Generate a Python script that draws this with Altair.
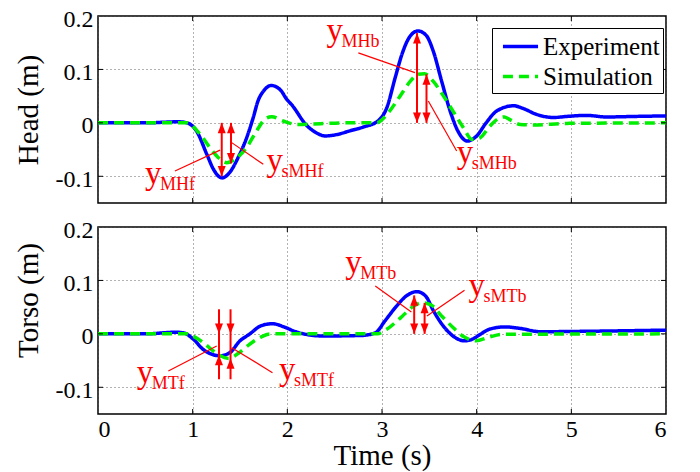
import altair as alt
import pandas as pd

SERIES = ["Experiment", "Simulation"]
COLORS = ["#0000ff", "#00ee00"]
DASHES = [[1, 0], [10, 6]]
X_TICKS = [0, 1, 2, 3, 4, 5, 6]
Y_TICKS = [-0.1, 0, 0.1, 0.2]
INNER_X_TICKS = [1, 2, 3, 4, 5]
INNER_Y_TICKS = [-0.1, 0, 0.1]

# ---------------- Head ----------------
head_exp_t = [0, 0.5, 0.85, 0.94, 1.04, 1.15, 1.22, 1.31, 1.39, 1.48, 1.57, 1.64, 1.69, 1.75, 1.83,
              1.93, 1.99, 2.05, 2.20, 2.30, 2.40, 2.52, 2.66, 2.80, 2.96, 3.05, 3.14, 3.21, 3.30,
              3.38, 3.47, 3.54, 3.63, 3.72, 3.81, 3.90, 4.00, 4.10, 4.21, 4.39, 4.49, 4.63, 4.81,
              4.95, 5.16, 5.37, 5.66, 6.0]
head_exp_y = [0, 0, 0.002, 0.0, -0.015, -0.059, -0.087, -0.103, -0.093, -0.065, -0.028, 0.010, 0.041,
              0.060, 0.070, 0.061, 0.045, 0.033, -0.004, -0.018, -0.0245, -0.022, -0.015, -0.008,
              0.004, 0.028, 0.085, 0.128, 0.163, 0.172, 0.163, 0.135, 0.078, 0.022, -0.018, -0.034,
              -0.0245, 0.000, 0.022, 0.032, 0.027, 0.016, 0.010, 0.012, 0.014, 0.011, 0.012, 0.013]
head_sim_t = [0, 0.5, 0.94, 1.077, 1.18, 1.29, 1.36, 1.447, 1.57, 1.676, 1.764, 1.835, 1.957, 2.10,
              2.35, 2.6, 2.94, 3.08, 3.19, 3.30, 3.38, 3.45, 3.54, 3.65, 3.75, 3.86, 3.95, 4.035,
              4.14, 4.22, 4.29, 4.35, 4.46, 4.6, 4.95, 6.0]
head_sim_y = [0, 0, 0, -0.021, -0.046, -0.068, -0.0745, -0.068, -0.046, -0.015, 0.007, 0.0115, 0.0035,
              -0.003, -0.0015, 0, 0, 0.022, 0.050, 0.078, 0.091, 0.092, 0.078, 0.050, 0.022, -0.009,
              -0.031, -0.028, -0.006, 0.007, 0.011, 0.006, -0.003, -0.004, -0.001, 0]

head_arrow_x = [1.307, 1.405, 3.37, 3.47]
head_arrow_lo = [-0.100, -0.076, 0.0, 0.0]
head_arrow_hi = [0.0, 0.0, 0.168, 0.091]
head_up_x = [1.307, 1.405, 3.37, 3.47]
head_up_y = [0.0, 0.0, 0.168, 0.091]
head_down_x = [1.307, 1.405, 3.37, 3.47]
head_down_y = [-0.100, -0.076, 0.0, 0.0]
head_lead_x1 = [0.813, 1.412, 2.75, 3.489]
head_lead_y1 = [-0.090, -0.037, 0.131, 0.041]
head_lead_x2 = [1.289, 1.746, 3.348, 3.789]
head_lead_y2 = [-0.051, -0.0775, 0.094, -0.0526]
head_lab_x = [0.496, 1.78, 2.415, 3.79]
head_lab_y = [-0.114, -0.090, 0.153, -0.0745]
head_lab_sub = ["MHf", "sMHf", "MHb", "sMHb"]

# ---------------- Torso ----------------
torso_exp_t = [0, 0.5, 0.82, 0.90, 1.007, 1.11, 1.20, 1.29, 1.394, 1.50, 1.597, 1.72, 1.842, 1.965,
               2.088, 2.375, 2.785, 2.93, 3.03, 3.154, 3.257, 3.37, 3.46, 3.544, 3.646, 3.75, 3.87,
               3.954, 4.036, 4.14, 4.30, 4.467, 4.67, 5.245, 6.0]
torso_exp_y = [0, 0, 0.003, 0.002, -0.010, -0.029, -0.038, -0.041, -0.035, -0.013, -0.001, 0.015,
               0.019, 0.013, 0.004, -0.004, -0.003, 0.002, 0.024, 0.052, 0.071, 0.079, 0.071, 0.043,
               0.015, -0.004, -0.013, -0.010, -0.001, 0.009, 0.013, 0.010, 0.004, 0.005, 0.007]
torso_sim_t = [0, 0.5, 0.94, 1.0, 1.11, 1.218, 1.38, 1.494, 1.597, 1.72, 1.82, 2.95, 3.05, 3.196,
               3.32, 3.42, 3.52, 3.626, 3.75, 3.87, 3.995, 4.118, 4.26, 6.0]
torso_sim_y = [0, 0, 0, -0.004, -0.016, -0.032, -0.046, -0.035, -0.020, -0.006, 0, 0, 0.0085, 0.030,
               0.050, 0.058, 0.054, 0.034, 0.012, -0.006, -0.013, -0.007, -0.001, 0]

torso_arrow_x = [1.278, 1.40, 3.34, 3.45]
torso_arrow_lo = [-0.085, -0.085, 0.0, 0.0]
torso_arrow_hi = [0.046, 0.046, 0.072, 0.058]
torso_up_x = [1.278, 1.40, 3.34, 3.45]
torso_up_y = [-0.0395, -0.0457, 0.072, 0.058]
torso_down_x = [1.278, 1.40, 3.34, 3.45]
torso_down_y = [0.0, 0.0, 0.0, 0.0]
torso_lead_x1 = [0.743, 1.412, 2.929, 3.872]
torso_lead_y1 = [-0.0694, -0.0258, 0.0896, 0.0816]
torso_lead_x2 = [1.254, 1.843, 3.31, 3.475]
torso_lead_y2 = [-0.0226, -0.0726, 0.041, 0.0335]
torso_lab_x = [0.409, 1.912, 2.613, 3.914]
torso_lab_y = [-0.0925, -0.087, 0.1145, 0.071]
torso_lab_sub = ["MTf", "sMTf", "MTb", "sMTb"]

W, H = 568, 187
FONT = "Liberation Serif"
RED = "#ff0000"
UP_SHAPE = "M0,0 L-0.5,1.3 L0.5,1.3 Z"
DOWN_SHAPE = "M0,0 L-0.5,-1.3 L0.5,-1.3 Z"
LEGEND_LINE = "M-1.3,0 L1.3,0"

XS = alt.Scale(domain=[0, 6], nice=False, zero=False)
YS = alt.Scale(domain=[-0.15, 0.2], nice=False, zero=False)

Y_LABEL_EXPR = ("datum.value < 0 ? '-' + format(-datum.value, '.1f') : "
                "(datum.value == 0 ? '0' : format(datum.value, '.1f'))")


def panel(exp_t, exp_y, sim_t, sim_y, ax, alo, ahi, ux, uy, dx_, dy_,
          lx1, ly1, lx2, ly2, labx, laby, labsub, ytitle, bottom, legend, title_y):
    df = pd.concat([
        pd.DataFrame({"t": exp_t, "v": exp_y, "series": SERIES[0]}),
        pd.DataFrame({"t": sim_t, "v": sim_y, "series": SERIES[1]}),
    ], ignore_index=True)

    xaxis = alt.Axis(values=X_TICKS, format="d", grid=True, labels=bottom,
                     title="Time (s)" if bottom else "", labelPadding=3, titlePadding=0,
                     labelFont=FONT, titleFont=FONT)
    yaxis = alt.Axis(values=Y_TICKS, labelExpr=Y_LABEL_EXPR, grid=True, title=ytitle,
                     labelPadding=5, titlePadding=12, labelOffset=3, titleY=title_y,
                     labelFont=FONT, titleFont=FONT)

    def X(f):
        return alt.X(f, type="quantitative", scale=XS, axis=xaxis)

    def Y(f):
        return alt.Y(f, type="quantitative", scale=YS, axis=yaxis)

    if legend:
        leg = alt.Legend(title=None, orient="none", legendX=394, legendY=12,
                         labelFont=FONT, labelFontSize=25, labelColor="black",
                         symbolType=LEGEND_LINE, symbolSize=729, symbolStrokeWidth=3.5,
                         symbolOffset=10, strokeColor="black", fillColor="white", padding=3,
                         rowPadding=1, labelOffset=7)
    else:
        leg = None

    lines = alt.Chart(df).mark_line(strokeWidth=3.5, interpolate="monotone").encode(
        x=X("t"), y=Y("v"),
        color=alt.Color("series:N", scale=alt.Scale(domain=SERIES, range=COLORS), legend=leg),
        strokeDash=alt.StrokeDash("series:N", scale=alt.Scale(domain=SERIES, range=DASHES),
                                  legend=leg),
    )

    xt = alt.Chart(pd.DataFrame({"t": INNER_X_TICKS}))
    yt = alt.Chart(pd.DataFrame({"v": INNER_Y_TICKS}))
    tick_top = xt.mark_rule(color="black", strokeWidth=1).encode(
        x=X("t"), y=alt.value(0), y2=alt.value(5))
    tick_bot = xt.mark_rule(color="black", strokeWidth=1).encode(
        x=X("t"), y=alt.value(H), y2=alt.value(H - 5))
    tick_left = yt.mark_rule(color="black", strokeWidth=1).encode(
        y=Y("v"), x=alt.value(0), x2=alt.value(5))
    tick_right = yt.mark_rule(color="black", strokeWidth=1).encode(
        y=Y("v"), x=alt.value(W), x2=alt.value(W - 5))

    arrows = alt.Chart(pd.DataFrame({"t": ax, "v": alo, "hi": ahi})).mark_rule(
        color=RED, strokeWidth=2).encode(x=X("t"), y=Y("v"), y2="hi:Q")
    ups = alt.Chart(pd.DataFrame({"t": ux, "v": uy})).mark_point(
        shape=UP_SHAPE, filled=True, size=256, color=RED, opacity=1, strokeWidth=0).encode(
        x=X("t"), y=Y("v"))
    downs = alt.Chart(pd.DataFrame({"t": dx_, "v": dy_})).mark_point(
        shape=DOWN_SHAPE, filled=True, size=256, color=RED, opacity=1, strokeWidth=0).encode(
        x=X("t"), y=Y("v"))
    leads = alt.Chart(pd.DataFrame({"t": lx1, "v": ly1, "t2": lx2, "v2": ly2})).mark_rule(
        color=RED, strokeWidth=1.2).encode(x=X("t"), y=Y("v"), x2="t2:Q", y2="v2:Q")
    labdf = pd.DataFrame({"t": labx, "v": laby, "main": ["y"] * len(labx), "sub": labsub})
    main_txt = alt.Chart(labdf).mark_text(
        font=FONT, fontSize=33, color=RED, align="left", baseline="alphabetic").encode(
        x=X("t"), y=Y("v"), text="main:N")
    sub_txt = alt.Chart(labdf).mark_text(
        font=FONT, fontSize=18, color=RED, align="left", baseline="alphabetic",
        dx=15, dy=6).encode(x=X("t"), y=Y("v"), text="sub:N")

    return alt.layer(lines, tick_top, tick_bot, tick_left, tick_right,
                     arrows, ups, downs, leads, main_txt, sub_txt).properties(width=W, height=H)


top = panel(head_exp_t, head_exp_y, head_sim_t, head_sim_y,
            head_arrow_x, head_arrow_lo, head_arrow_hi, head_up_x, head_up_y,
            head_down_x, head_down_y, head_lead_x1, head_lead_y1, head_lead_x2, head_lead_y2,
            head_lab_x, head_lab_y, head_lab_sub, "Head (m)", False, True, 93.5)
bottom = panel(torso_exp_t, torso_exp_y, torso_sim_t, torso_sim_y,
               torso_arrow_x, torso_arrow_lo, torso_arrow_hi, torso_up_x, torso_up_y,
               torso_down_x, torso_down_y, torso_lead_x1, torso_lead_y1, torso_lead_x2,
               torso_lead_y2, torso_lab_x, torso_lab_y, torso_lab_sub, "Torso (m)", True, False,
               73)

chart = alt.vconcat(top, bottom, spacing=12).resolve_scale(
    color="independent", strokeDash="independent"
).resolve_legend(
    color="independent", strokeDash="independent"
).properties(
    padding={"left": 5, "top": -2, "right": 5, "bottom": 0},
    background="white",
).configure_view(
    stroke="black", strokeWidth=1.5
).configure_axis(
    labelFont=FONT, titleFont=FONT, labelFontSize=24, titleFontSize=29,
    labelColor="black", titleColor="black", titleFontWeight="normal",
    ticks=False, tickSize=0, domain=False,
    gridColor="#555555", gridDash=[1, 3], gridWidth=1, gridOpacity=0.9,
)

chart.save("out.html", embed_options={"renderer": "svg", "actions": False})
